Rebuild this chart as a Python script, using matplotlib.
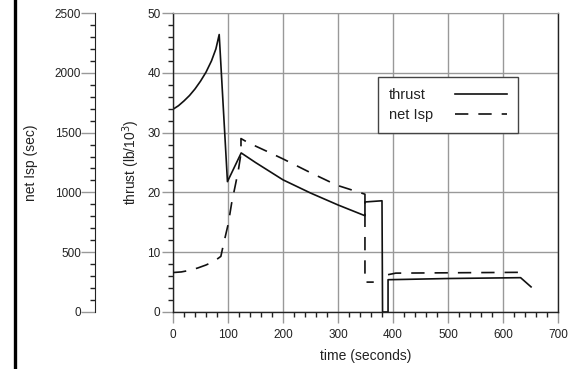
import numpy as np
import matplotlib.pyplot as plt
from matplotlib.lines import Line2D
from matplotlib.ticker import MultipleLocator

plt.rcParams['font.family'] = ['Liberation Sans', 'DejaVu Sans']

# thrust (lb/10^3) vs time (s)
thrust_t = [0, 10, 20, 30, 40, 50, 60, 70, 78, 84, 99, 124, 150, 200, 250, 300, 349,
            349, 380, 381, 391, 391, 420, 500, 632, 651]
thrust_v = [33.9, 34.5, 35.3, 36.2, 37.3, 38.6, 40.1, 42.0, 44.0, 46.4, 21.8, 26.6, 25.0, 22.1, 19.9, 17.9, 16.1,
            18.4, 18.6, 0, 0, 5.4, 5.45, 5.6, 5.74, 4.2]

# net Isp (sec) vs time (s)
isp_t = [0, 15, 30, 45, 60, 75, 87, 91.5, 100.6, 106.6, 114, 118.8, 123.6, 123.6, 137, 170, 200, 250, 298, 349,
         349, 365, 378, 391, 405, 645]
isp_v = [330, 335, 348, 368, 393, 425, 465, 560, 740, 910, 1075, 1185, 1325, 1450, 1415, 1345, 1280, 1165, 1060, 985,
         250, 250, np.nan, 312, 325, 332]

W, H = 578, 369
fig = plt.figure(figsize=(W / 100, H / 100), dpi=100)
ax = fig.add_axes([173 / W, 1 - 312 / H, 385 / W, 299 / H])
ax2 = ax.twinx()

grid_c = '#999999'
dark = '#222222'

ax.set_xlim(0, 700)
ax.set_ylim(0, 50)
ax.xaxis.set_major_locator(MultipleLocator(100))
ax.xaxis.set_minor_locator(MultipleLocator(20))
ax.yaxis.set_major_locator(MultipleLocator(10))
ax.yaxis.set_minor_locator(MultipleLocator(2))
ax.grid(True, which='major', color=grid_c, lw=1.0)
ax.tick_params(which='major', length=8, width=1, color=grid_c, labelsize=8.5, labelcolor=dark)
ax.tick_params(axis='y', which='major', pad=1)
ax.tick_params(axis='x', which='major', pad=4)
ax.tick_params(which='minor', length=3.6, width=1, color=dark)
ax.spines['top'].set_color(grid_c)
for s in ['left', 'bottom', 'right']:
    ax.spines[s].set_color(dark)
    ax.spines[s].set_linewidth(1.0)

ax2.set_ylim(0, 2500)
ax2.yaxis.tick_left()
ax2.yaxis.set_label_position('left')
ax2.spines['left'].set_position(('outward', 78 * 0.72))
for s in ['right', 'top', 'bottom']:
    ax2.spines[s].set_visible(False)
ax2.spines['left'].set_color(dark)
ax2.yaxis.set_major_locator(MultipleLocator(500))
ax2.yaxis.set_minor_locator(MultipleLocator(100))
ax2.tick_params(which='major', length=10, width=1, color=grid_c, labelsize=8.5, labelcolor=dark, pad=0)
ax2.tick_params(which='minor', length=3.6, width=1, color=dark)

l1, = ax.plot(thrust_t, thrust_v, color='#111111', lw=1.2, label='thrust')
l2, = ax2.plot(isp_t, isp_v, color='#111111', lw=1.2, dashes=(8, 6), label='net Isp')

ax.set_xlabel('time (seconds)', fontsize=10, color=dark, labelpad=6)
ax.set_ylabel('thrust (lb/10$^3$)', fontsize=10, color=dark, labelpad=4)
ax2.set_ylabel('net Isp (sec)', fontsize=10, color=dark, labelpad=12)

leg = ax2.legend([l1, l2], ['thrust', 'net Isp'], loc='upper left', bbox_to_anchor=(0.532, 0.786),
                 markerfirst=False, handlelength=3.6, fontsize=10.5, fancybox=False, framealpha=1,
                 edgecolor='#444444', borderpad=0.75, labelspacing=0.4, handletextpad=1.5,
                 borderaxespad=0)
leg.get_frame().set_linewidth(1.0)
for t in leg.get_texts():
    t.set_color(dark)

# left-align legend labels while keeping the line samples lined up
fig.canvas.draw()
widths = [t.get_window_extent().width for t in leg.get_texts()]
wmax = max(widths)
k = 0
for col in leg._legend_handle_box.get_children():
    col.align = 'left'
    for item in col.get_children():
        item.sep += (wmax - widths[k]) * 72 / fig.dpi
        k += 1

fig.add_artist(Line2D([14.5 / W, 14.5 / W], [0, 1], color='black', lw=2.4))

fig.savefig('out.png', dpi=100)
